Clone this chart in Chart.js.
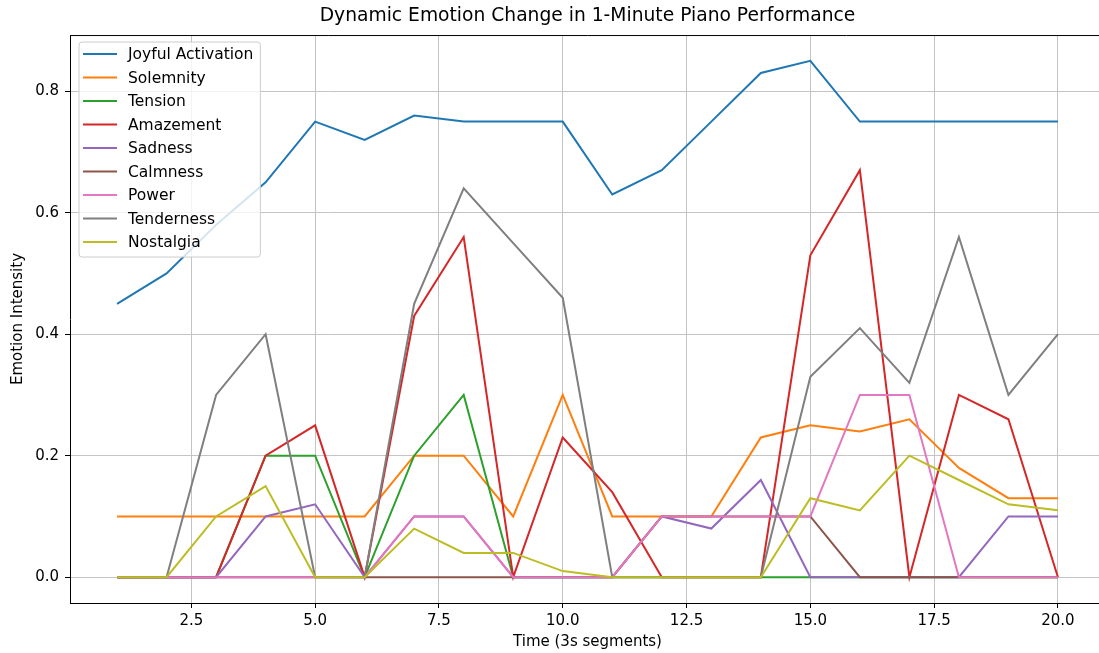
<!DOCTYPE html>
<html>
<head>
<meta charset="utf-8">
<script src="https://cdn.jsdelivr.net/npm/chart.js@4"></script>
<style>
  html, body { margin: 0; padding: 0; overflow: hidden; background: #fff; }
  #wrap { position: absolute; left: 0; top: 0; }
</style>
</head>
<body>
<div id="wrap"><canvas id="emotionChart" width="1112" height="653"></canvas></div>
<script>
// time segments (3s each)
const segments = [1, 2, 3, 4, 5, 6, 7, 8, 9, 10, 11, 12, 13, 14, 15, 16, 17, 18, 19, 20];

// emotion intensities
const joyful     = [0.45, 0.50, 0.58, 0.65, 0.75, 0.72, 0.76, 0.75, 0.75, 0.75, 0.63, 0.67, 0.75, 0.83, 0.85, 0.75, 0.75, 0.75, 0.75, 0.75];
const solemnity  = [0.10, 0.10, 0.10, 0.10, 0.10, 0.10, 0.20, 0.20, 0.10, 0.30, 0.10, 0.10, 0.10, 0.23, 0.25, 0.24, 0.26, 0.18, 0.13, 0.13];
const tension    = [0, 0, 0, 0.20, 0.20, 0, 0.20, 0.30, 0, 0, 0, 0, 0, 0, 0, 0, 0, 0, 0, 0];
const amazement  = [0, 0, 0, 0.20, 0.25, 0, 0.43, 0.56, 0, 0.23, 0.14, 0, 0, 0, 0.53, 0.67, 0, 0.30, 0.26, 0];
const sadness    = [0, 0, 0, 0.10, 0.12, 0, 0.10, 0.10, 0, 0, 0, 0.10, 0.08, 0.16, 0, 0, 0, 0, 0.10, 0.10];
const calmness   = [0, 0, 0, 0, 0, 0, 0, 0, 0, 0, 0, 0.10, 0.10, 0.10, 0.10, 0, 0, 0, 0, 0];
const power      = [0, 0, 0, 0, 0, 0, 0.10, 0.10, 0, 0, 0, 0.10, 0.10, 0.10, 0.10, 0.30, 0.30, 0, 0, 0];
const tenderness = [0, 0, 0.30, 0.40, 0, 0, 0.45, 0.64, 0.55, 0.46, 0, 0, 0, 0, 0.33, 0.41, 0.32, 0.56, 0.30, 0.40];
const nostalgia  = [0, 0, 0.10, 0.15, 0, 0, 0.08, 0.04, 0.04, 0.01, 0, 0, 0, 0, 0.13, 0.11, 0.20, 0.16, 0.12, 0.11];

const emotionNames = ["Joyful Activation", "Solemnity", "Tension", "Amazement", "Sadness",
                      "Calmness", "Power", "Tenderness", "Nostalgia"];
const emotionSeries = [joyful, solemnity, tension, amazement, sadness, calmness, power, tenderness, nostalgia];
const emotionColors = ["#1f77b4", "#ff7f0e", "#2ca02c", "#d62728", "#9467bd",
                       "#8c564b", "#e377c2", "#7f7f7f", "#bcbd22"];

// tick labels
const xTicks = [2.5, 5, 7.5, 10, 12.5, 15, 17.5, 20];
const yTicks = [0, 0.2, 0.4, 0.6, 0.8];

Chart.defaults.font.family = "'DejaVu Sans', sans-serif";
Chart.defaults.color = "#000";

// later series drawn on top (lower order = drawn last)
const datasets = emotionSeries.map((serie, i) => ({
  label: emotionNames[i],
  data: serie.map((v, j) => ({ x: segments[j], y: v })),
  borderColor: emotionColors[i],
  backgroundColor: emotionColors[i],
  borderWidth: 2,
  pointRadius: 0,
  tension: 0,
  fill: false,
  order: emotionSeries.length - i,
}));

// legend box drawn over the lines, like matplotlib
const legendBox = {
  id: "legendBox",
  afterDatasetsDraw(chart) {
    const { ctx, chartArea } = chart;
    const x0 = chartArea.left + 9;
    const y0 = chartArea.top + 7;
    const rowH = 23.5;
    const names = emotionNames;
    ctx.save();
    ctx.font = "15.5px 'DejaVu Sans'";
    let maxW = 0;
    names.forEach((n) => { maxW = Math.max(maxW, ctx.measureText(n).width); });
    const w = 49 + maxW + 7;
    const h = 27 + rowH * (names.length - 1);
    ctx.beginPath();
    if (ctx.roundRect) ctx.roundRect(x0, y0, w, h, 3); else ctx.rect(x0, y0, w, h);
    ctx.fillStyle = "rgba(255,255,255,0.8)";
    ctx.fill();
    ctx.strokeStyle = "#cccccc";
    ctx.lineWidth = 1;
    ctx.stroke();
    names.forEach((n, i) => {
      const cy = y0 + 12 + i * rowH;
      ctx.beginPath();
      ctx.moveTo(x0 + 4, cy);
      ctx.lineTo(x0 + 38, cy);
      ctx.strokeStyle = emotionColors[i];
      ctx.lineWidth = 2;
      ctx.stroke();
      ctx.fillStyle = "#000";
      ctx.textBaseline = "middle";
      ctx.textAlign = "left";
      ctx.fillText(n, x0 + 49, cy + 1);
    });
    ctx.restore();
  },
};

// top and right spines
const frame = {
  id: "frame",
  afterDraw(chart) {
    const { ctx, chartArea } = chart;
    ctx.save();
    ctx.strokeStyle = "#000";
    ctx.lineWidth = 1;
    ctx.beginPath();
    ctx.moveTo(chartArea.left, chartArea.top + 0.5);
    ctx.lineTo(chartArea.right + 0.5, chartArea.top + 0.5);
    ctx.lineTo(chartArea.right + 0.5, chartArea.bottom);
    ctx.stroke();
    ctx.restore();
  },
};

const ctx = document.getElementById("emotionChart");

const chart = new Chart(ctx, {
  type: "line",
  data: { datasets: datasets },
  options: {
    responsive: false,
    animation: false,
    layout: { padding: { left: 0, right: 7, top: 0, bottom: 0 } },
    scales: {
      x: {
        type: "linear",
        min: 0.05,
        max: 20.95,
        afterBuildTicks: (scale) => { scale.ticks = xTicks.map((v) => ({ value: v })); },
        afterFit: (scale) => { scale.height = 50; },
        ticks: {
          font: { size: 15 },
          padding: 4,
          maxRotation: 0,
          callback: (v) => Number(v).toFixed(1),
        },
        grid: { color: "#c4c4c4", lineWidth: 1, drawTicks: true, tickLength: 5, tickColor: "#000" },
        border: { display: true, color: "#000", width: 1 },
        title: {
          display: true,
          text: "Time (3s segments)",
          font: { size: 15 },
          padding: { top: 0, bottom: 2 },
        },
      },
      y: {
        type: "linear",
        min: -0.0425,
        max: 0.8925,
        afterBuildTicks: (scale) => { scale.ticks = yTicks.map((v) => ({ value: v })); },
        afterFit: (scale) => { scale.width = 70; },
        ticks: {
          font: { size: 15 },
          padding: 6,
          callback: (v) => Number(v).toFixed(1),
        },
        grid: { color: "#c4c4c4", lineWidth: 1, drawTicks: true, tickLength: 5, tickColor: "#000" },
        border: { display: true, color: "#000", width: 1 },
        title: {
          display: true,
          text: "Emotion Intensity",
          font: { size: 15 },
          padding: { top: 9, bottom: 0 },
        },
      },
    },
    plugins: {
      legend: { display: false },
      tooltip: { enabled: false },
      title: {
        display: true,
        text: "Dynamic Emotion Change in 1-Minute Piano Performance",
        fullSize: false,
        font: { size: 18.7, weight: "normal" },
        padding: { top: 5, bottom: 7.6 },
        color: "#000",
      },
    },
  },
  plugins: [legendBox, frame],
});
</script>
</body>
</html>
